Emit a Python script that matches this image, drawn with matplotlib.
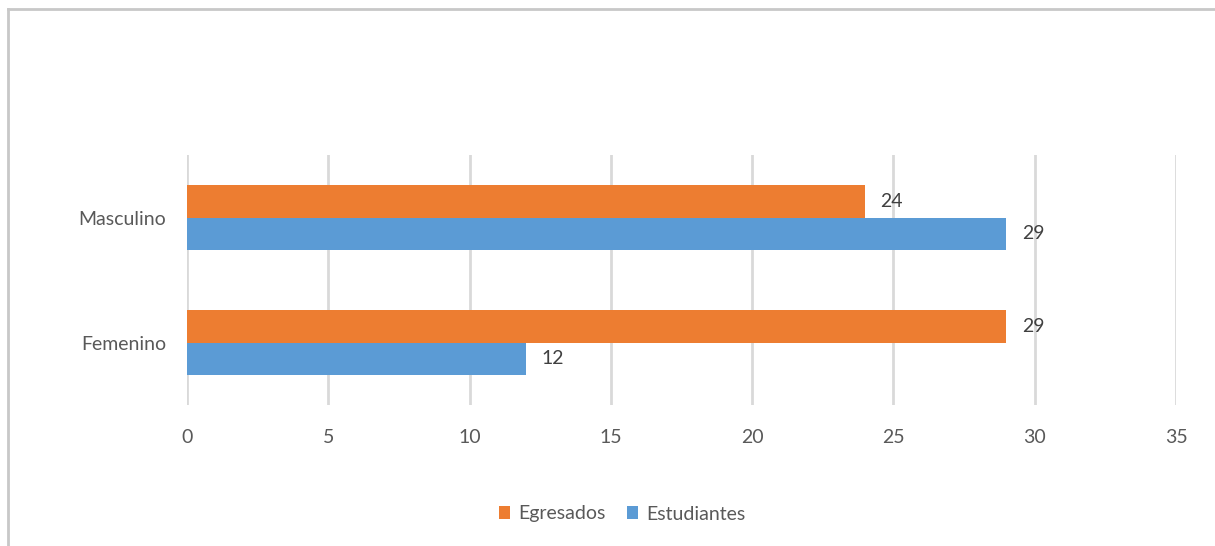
import matplotlib
matplotlib.use("Agg")
import matplotlib.pyplot as plt
from matplotlib.lines import Line2D
import numpy as np

categories = ["Femenino", "Masculino"]
egresados = [29, 24]
estudiantes = [12, 29]
series_names = ["Egresados", "Estudiantes"]
colors = ["#ED7D31", "#5B9BD5"]
xticks = [0, 5, 10, 15, 20, 25, 30, 35]

plt.rcParams["font.family"] = ["Lato", "DejaVu Sans"]

fig = plt.figure(figsize=(12.15, 5.46), dpi=100)
ax = fig.add_axes([187 / 1215, 1 - 405 / 546, (1176 - 187) / 1215, 250 / 546])

y = np.arange(len(categories))
h = 0.26
bars_e = ax.barh(y + h / 2, egresados, height=h, color=colors[0], label=series_names[0])
bars_s = ax.barh(y - h / 2, estudiantes, height=h, color=colors[1], label=series_names[1])

for bars in (bars_e, bars_s):
    for bar in bars:
        w = bar.get_width()
        ax.annotate(
            f"{w:g}",
            (w, bar.get_y() + bar.get_height() / 2),
            xytext=(11, 0),
            textcoords="offset points",
            ha="left",
            va="center",
            fontsize=14,
            color="#404040",
        )

ax.set_xlim(0, 35)
ax.set_ylim(-0.5, 1.5)
ax.set_xticks(xticks)
ax.set_yticks(y)
ax.set_yticklabels(categories)
ax.tick_params(axis="both", length=0, labelsize=14, labelcolor="#595959")
ax.tick_params(axis="x", pad=17)
ax.tick_params(axis="y", pad=15)
ax.grid(axis="x", color="#D9D9D9", linewidth=2)
ax.set_axisbelow(True)
for s in ax.spines.values():
    s.set_visible(False)

handles = [bars_e, bars_s]
fig.legend(
    handles,
    series_names,
    loc="center",
    bbox_to_anchor=(622 / 1215, 1 - 514 / 546),
    ncol=2,
    frameon=False,
    fontsize=14,
    labelcolor="#595959",
    handlelength=0.6,
    handleheight=0.6,
    handletextpad=0.4,
    columnspacing=1.1,
)

fig.add_artist(Line2D([8 / 1215, 8 / 1215], [0, 1 - 9 / 546], transform=fig.transFigure, color="#C8C8C8", linewidth=2))
fig.add_artist(Line2D([8 / 1215, 1], [1 - 9 / 546, 1 - 9 / 546], transform=fig.transFigure, color="#C8C8C8", linewidth=2))

fig.savefig("out.png", dpi=100)
